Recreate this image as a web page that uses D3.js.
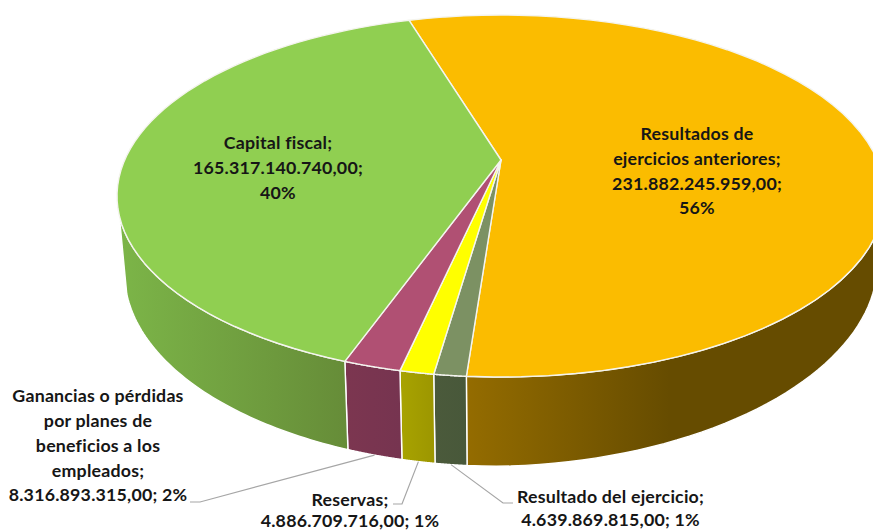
<!DOCTYPE html>
<html><head><meta charset="utf-8">
<script src="https://cdn.jsdelivr.net/npm/d3@7/dist/d3.min.js"></script>
<style>html,body{margin:0;padding:0;background:#fff;overflow:hidden}svg{display:block}</style>
</head><body><div id="chart"></div>
<script>
const categories = ["Resultados de ejercicios anteriores","Resultado del ejercicio","Reservas","Ganancias o pérdidas por planes de beneficios a los empleados","Capital fiscal"];
const values = [231882245959,4639869815,4886709716,8316893315,165317140740];
const valueLabels = ["231.882.245.959,00","4.639.869.815,00","4.886.709.716,00","8.316.893.315,00","165.317.140.740,00"];
const percentLabels = ["56%","1%","1%","2%","40%"];
const topColors = ["#fbbc00","#7c9163","#ffff00","#b05073","#90cf51"];
const wallLeft  = ["#946c00","#4b5a3b","#a8a300","#7c3650","#7cb548"];
const wallRight = ["#664c00","#48583a","#9c9600","#763450","#668c38"];
const labelLines = [
  ["Resultados de","ejercicios anteriores;","231.882.245.959,00;","56%"],
  ["Resultado del ejercicio;","4.639.869.815,00; 1%"],
  ["Reservas;","4.886.709.716,00; 1%"],
  ["Ganancias o pérdidas","por planes de","beneficios a los","empleados;","8.316.893.315,00; 2%"],
  ["Capital fiscal;","165.317.140.740,00;","40%"]
];

const W=873,H=530;
const labelLayout=[
 {x:697,y:[134,159,184,208]},
 {x:610.5,y:[497,520]},
 {x:350,y:[500,521]},
 {x:98,y:[396,421,446,471,495]},
 {x:278,y:[143,168,193]}
];
const leaders=[null,
 {from:[513,503],elbow:[503,503]},
 {from:[393,504],elbow:[402,504]},
 {from:[190,502],elbow:[200,502]},
 null];

// perspective projection of the unit disc
const cx=501,cy=160,A=-142,P=0.199,C=376.3,DROP=79,K=1.02;
const START=-16.9*Math.PI/180;
const proj=(t,lower)=>{
  const u=Math.sin(t),v=Math.cos(t),w=1+P*v;
  if(!lower) return [cx+C*u/w, (cy+A*v)/w];
  return [cx+C*u/(w*K), (cy+A*v+DROP)/(w*K)-10*Math.max(0,u)];
};

const svg=d3.select("#chart").append("svg").attr("width",W).attr("height",H).attr("viewBox",`0 0 ${W} ${H}`);
const defs=svg.append("defs");
const arcs=d3.pie().sort(null).startAngle(START).endAngle(START+2*Math.PI)(values);
const line=d3.line();
const sample=(a,b)=>d3.range(0,61).map(i=>a+(b-a)*i/60);

// walls (only the front of the disc)
const FRONT0=Math.PI/2-0.25, FRONT1=252.5*Math.PI/180;
arcs.forEach((d,i)=>{
  const a=Math.max(d.startAngle,FRONT0), b=Math.min(d.endAngle,FRONT1);
  if(b<=a) return;
  const ts=sample(a,b);
  const up=ts.map(t=>proj(t,false)), lo=ts.map(t=>proj(t,true)).reverse();
  const xs=up.concat(lo).map(p=>p[0]);
  const g=defs.append("linearGradient").attr("id","w"+i).attr("gradientUnits","userSpaceOnUse")
    .attr("x1",d3.min(xs)).attr("x2",i===0?670:d3.max(xs)).attr("y1",0).attr("y2",0);
  g.append("stop").attr("offset",0).attr("stop-color",wallLeft[i]);
  g.append("stop").attr("offset",1).attr("stop-color",wallRight[i]);
  svg.append("path").attr("d",line(up.concat(lo))+"Z").attr("fill",`url(#w${i})`)
    .attr("stroke","#fff").attr("stroke-width",1.4).attr("stroke-linejoin","round");
});

// top faces
arcs.forEach((d,i)=>{
  const pts=[[cx,cy]].concat(sample(d.startAngle,d.endAngle).map(t=>proj(t,false)));
  svg.append("path").attr("d",line(pts)+"Z").attr("fill",topColors[i])
    .attr("stroke","#f4f4ee").attr("stroke-width",1.4).attr("stroke-linejoin","round");
});

// leader lines
leaders.forEach((l,i)=>{
  if(!l) return;
  const d=arcs[i],anchor=proj((d.startAngle+d.endAngle)/2,true);
  svg.append("path").attr("d",line([l.from,l.elbow,anchor])).attr("fill","none")
    .attr("stroke","#a6a6a6").attr("stroke-width",1.2);
});

// labels
labelLines.forEach((lines,i)=>{
  const t=svg.append("text").attr("text-anchor","middle").attr("fill","#161616")
    .attr("font-family","Lato,sans-serif").attr("font-weight",700).attr("font-size",17.8).attr("letter-spacing",0.2);
  lines.forEach((s,j)=>t.append("tspan").attr("x",labelLayout[i].x).attr("y",labelLayout[i].y[j]).attr("dy","0.35em").text(s));
});
</script></body></html>
